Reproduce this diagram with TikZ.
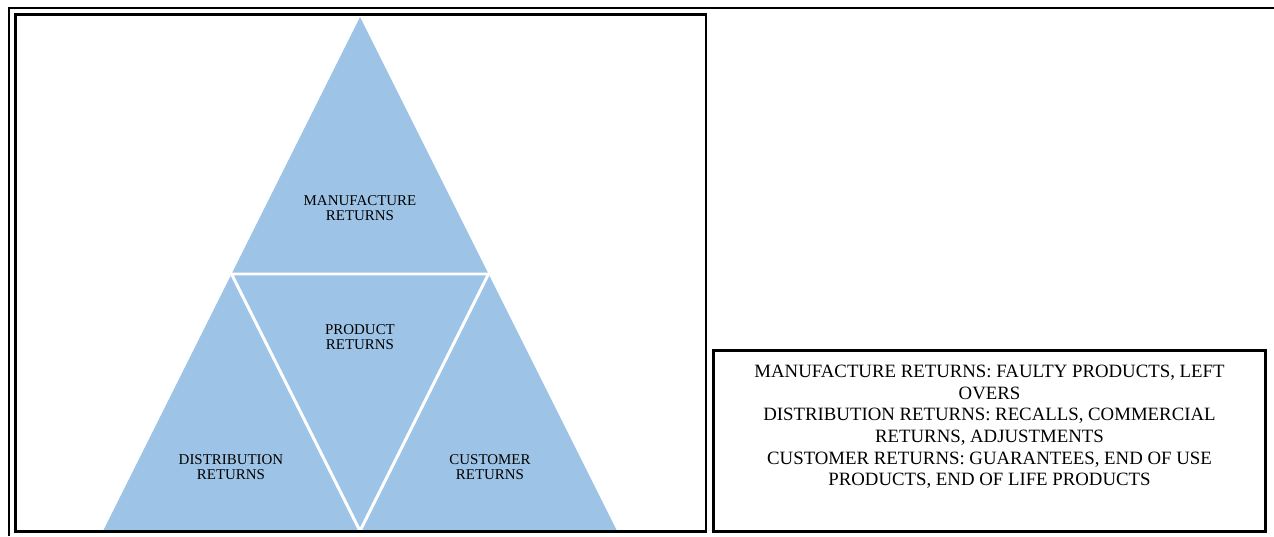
\documentclass[tikz,border=0pt]{standalone}
\usepackage{fontspec}
\setmainfont{Liberation Serif}
\definecolor{returnblue}{RGB}{157,195,230}
\tikzset{
  frameline/.style={draw=black, line width=1.8pt},
  smalltext/.style={align=center, inner sep=0pt, font=\fontsize{11.2}{10.8}\selectfont},
  bigtext/.style={align=center, inner sep=0pt, font=\fontsize{14.1}{16.2}\selectfont},
}
\begin{document}
\begin{tikzpicture}[x=0.75pt, y=-0.75pt]
\useasboundingbox (0,0) rectangle (1274,536);
% corners of the pyramid
\coordinate (apex) at (360,17);
\coordinate (bl) at (103,531);
\coordinate (br) at (617,531);
\coordinate (ml) at (231.5,274);
\coordinate (mr) at (488.5,274);
\coordinate (mb) at (360,531);
\fill [returnblue] (apex) -- (bl) -- (br) -- cycle;
\draw [white, line width=2.2pt] (ml) -- (mr) -- (mb) -- cycle;
% frames
\draw [line width=1.5pt] (8.5,536) -- (8.5,7.5) -- (1274,7.5);
\draw [frameline] (15.5,14.5) rectangle (706,531.5);
\draw [frameline] (713.5,350.5) rectangle (1265.5,531.5);
% labels
\node [smalltext] (manuf) at (360,208) {MANUFACTURE\\RETURNS};
\node [smalltext] (product) at (360,337) {PRODUCT\\RETURNS};
\node [smalltext] (distrib) at (231,467) {DISTRIBUTION\\RETURNS};
\node [smalltext] (customer) at (490,467) {CUSTOMER\\RETURNS};
\node [bigtext] (legend) at (989.5,427) {MANUFACTURE RETURNS: FAULTY PRODUCTS, LEFT\\OVERS\\DISTRIBUTION RETURNS: RECALLS, COMMERCIAL\\RETURNS, ADJUSTMENTS\\CUSTOMER RETURNS: GUARANTEES, END OF USE\\PRODUCTS, END OF LIFE PRODUCTS};
\end{tikzpicture}
\end{document}
